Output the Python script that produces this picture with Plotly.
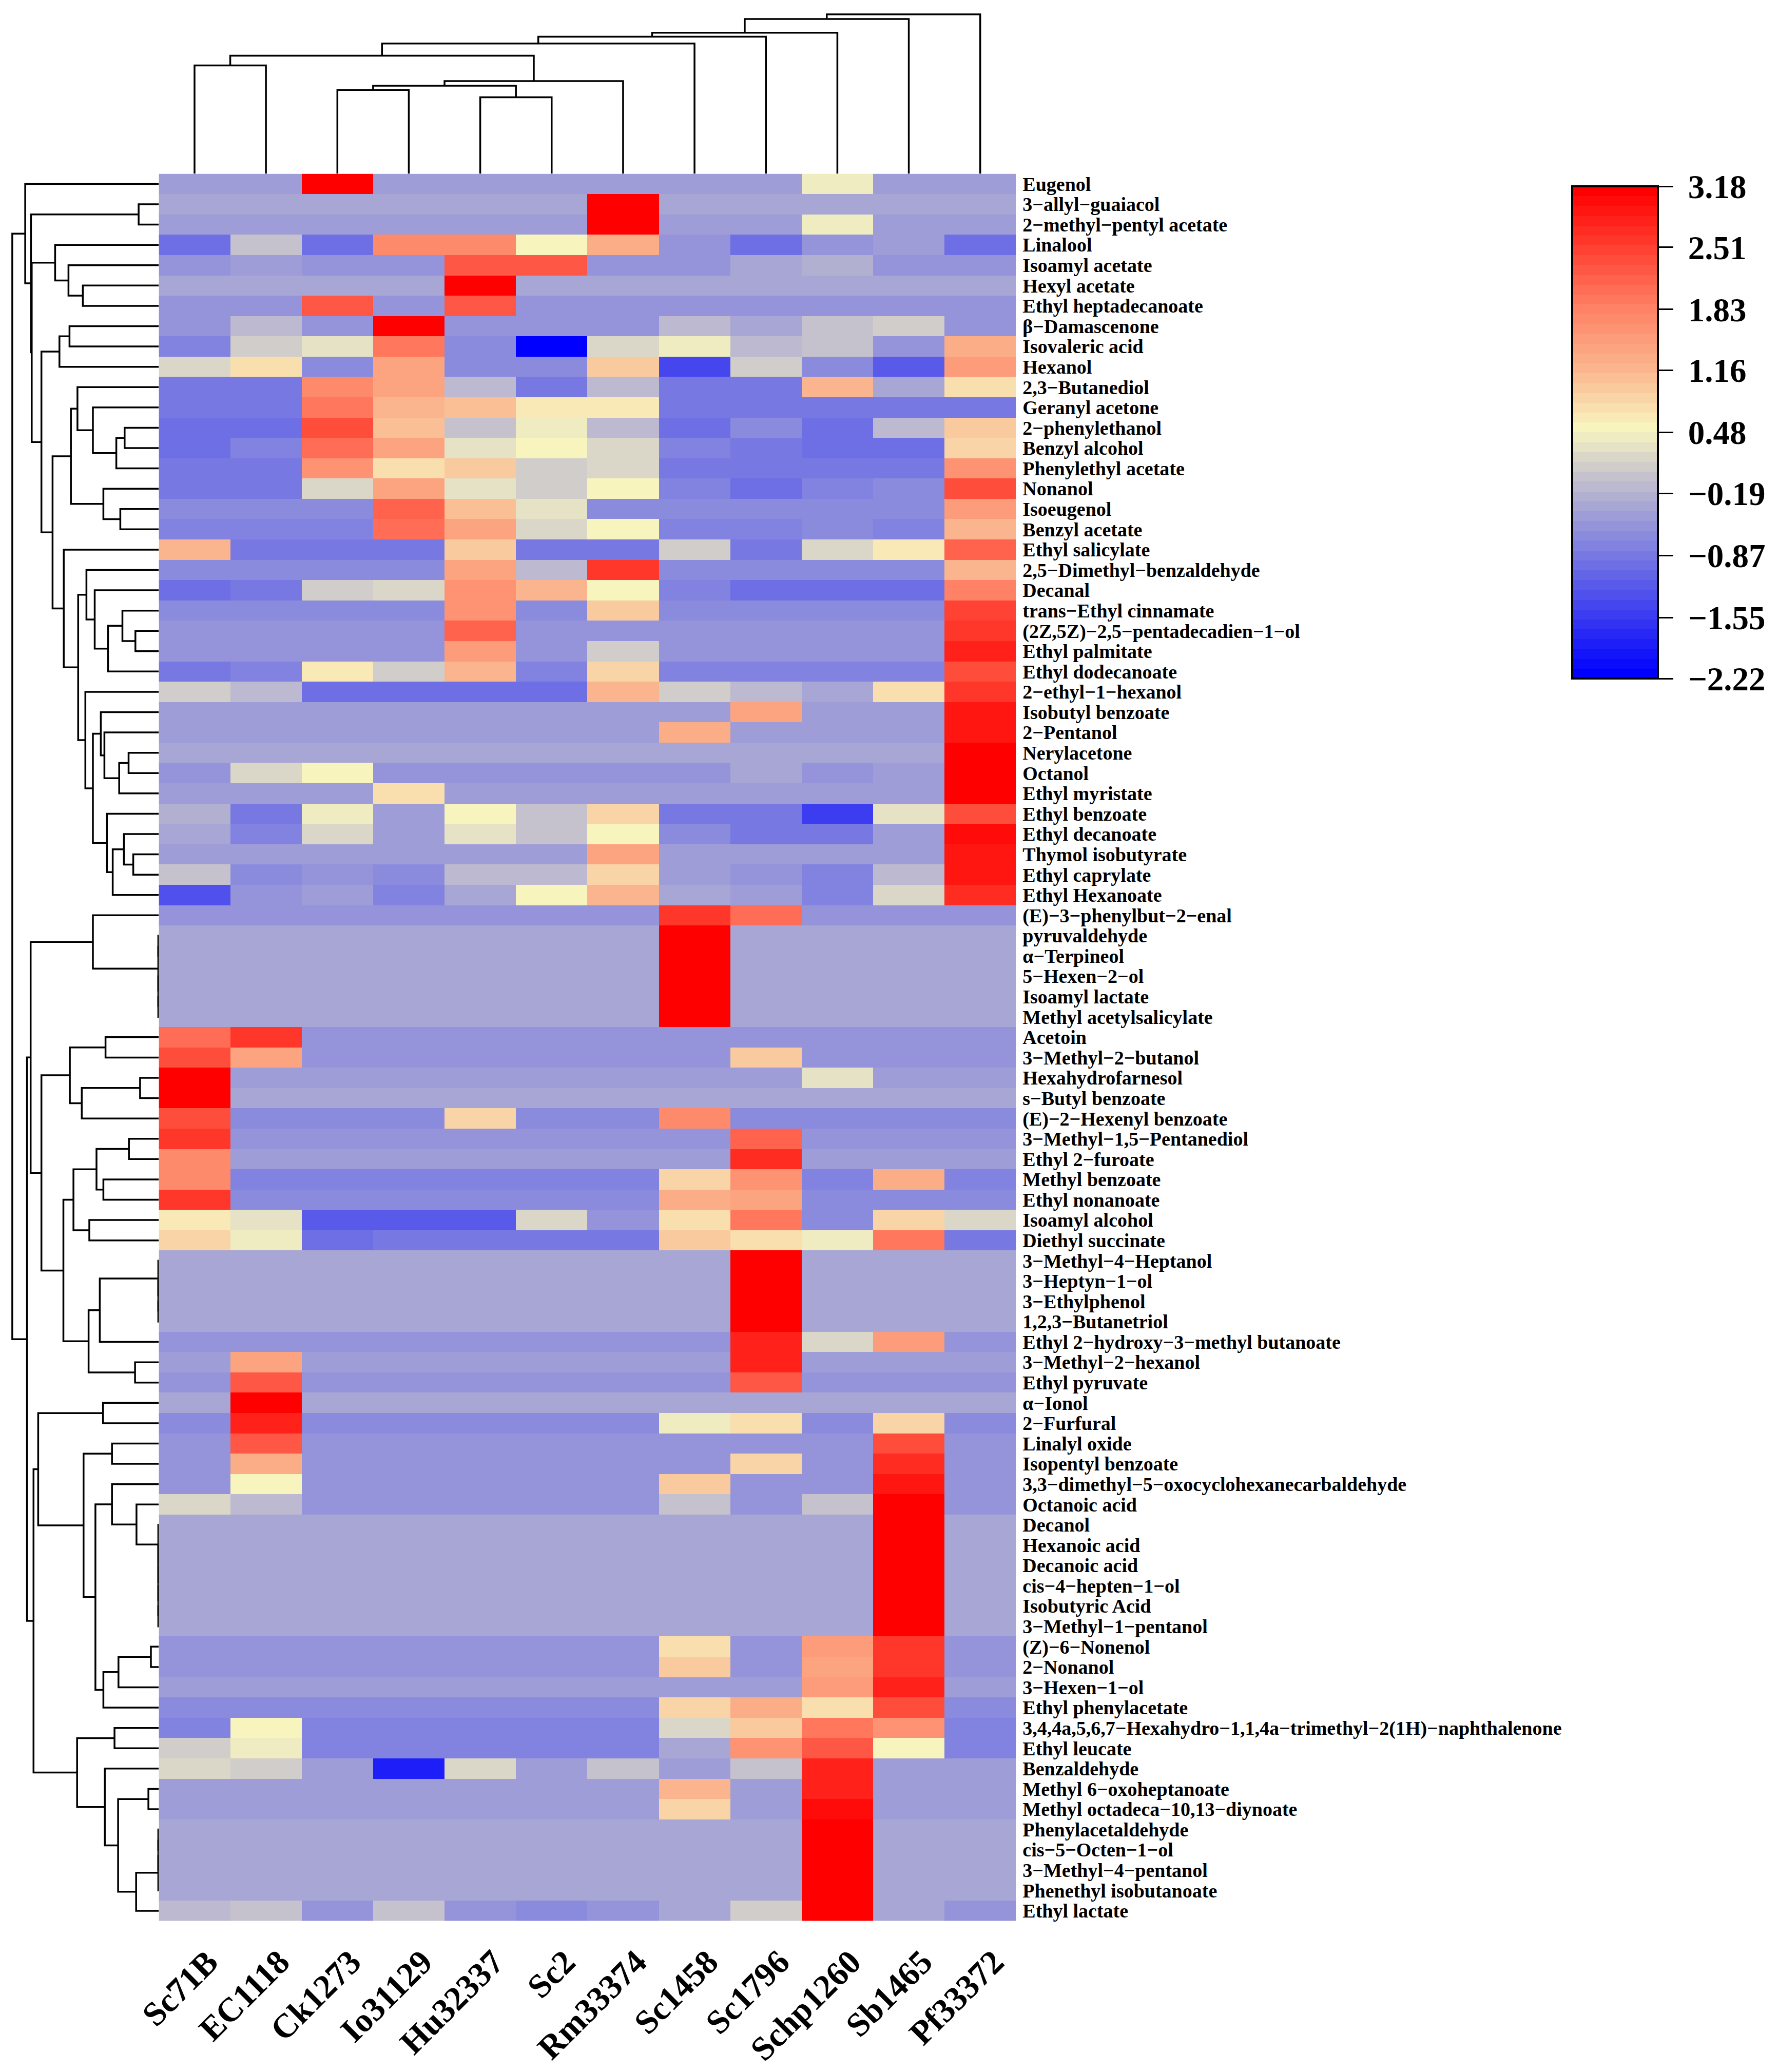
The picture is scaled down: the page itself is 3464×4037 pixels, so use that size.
import plotly.graph_objects as go

# ── Data ──────────────────────────────────────────────────────────────────────

samples = ['Sc71B', 'EC1118', 'Ck1273', 'Io31129', 'Hu32337', 'Sc2', 'Rm33374',
           'Sc1458', 'Sc1796', 'Schp1260', 'Sb1465', 'Pf33372']

compounds = [
    'Eugenol', '3−allyl−guaiacol', '2−methyl−pentyl acetate', 'Linalool', 'Isoamyl acetate',
    'Hexyl acetate', 'Ethyl heptadecanoate', 'β−Damascenone', 'Isovaleric acid', 'Hexanol',
    '2,3−Butanediol', 'Geranyl acetone', '2−phenylethanol', 'Benzyl alcohol', 'Phenylethyl acetate',
    'Nonanol', 'Isoeugenol', 'Benzyl acetate', 'Ethyl salicylate', '2,5−Dimethyl−benzaldehyde',
    'Decanal', 'trans−Ethyl cinnamate', '(2Z,5Z)−2,5−pentadecadien−1−ol', 'Ethyl palmitate',
    'Ethyl dodecanoate', '2−ethyl−1−hexanol', 'Isobutyl benzoate', '2−Pentanol', 'Nerylacetone',
    'Octanol', 'Ethyl myristate', 'Ethyl benzoate', 'Ethyl decanoate', 'Thymol isobutyrate',
    'Ethyl caprylate', 'Ethyl Hexanoate', '(E)−3−phenylbut−2−enal', 'pyruvaldehyde', 'α−Terpineol',
    '5−Hexen−2−ol', 'Isoamyl lactate', 'Methyl acetylsalicylate', 'Acetoin', '3−Methyl−2−butanol',
    'Hexahydrofarnesol', 's−Butyl benzoate', '(E)−2−Hexenyl benzoate', '3−Methyl−1,5−Pentanediol',
    'Ethyl 2−furoate', 'Methyl benzoate', 'Ethyl nonanoate', 'Isoamyl alcohol', 'Diethyl succinate',
    '3−Methyl−4−Heptanol', '3−Heptyn−1−ol', '3−Ethylphenol', '1,2,3−Butanetriol',
    'Ethyl 2−hydroxy−3−methyl butanoate', '3−Methyl−2−hexanol', 'Ethyl pyruvate', 'α−Ionol',
    '2−Furfural', 'Linalyl oxide', 'Isopentyl benzoate', '3,3−dimethyl−5−oxocyclohexanecarbaldehyde',
    'Octanoic acid', 'Decanol', 'Hexanoic acid', 'Decanoic acid', 'cis−4−hepten−1−ol',
    'Isobutyric Acid', '3−Methyl−1−pentanol', '(Z)−6−Nonenol', '2−Nonanol', '3−Hexen−1−ol',
    'Ethyl phenylacetate', '3,4,4a,5,6,7−Hexahydro−1,1,4a−trimethyl−2(1H)−naphthalenone',
    'Ethyl leucate', 'Benzaldehyde', 'Methyl 6−oxoheptanoate', 'Methyl octadeca−10,13−diynoate',
    'Phenylacetaldehyde', 'cis−5−Octen−1−ol', '3−Methyl−4−pentanol', 'Phenethyl isobutanoate',
    'Ethyl lactate',
]

values = [
    [-.40, -.40, 3.18, -.40, -.40, -.40, -.40, -.40, -.40, .38, -.40, -.40],
    [-.28, -.28, -.28, -.28, -.28, -.28, 3.18, -.28, -.28, -.28, -.28, -.28],
    [-.42, -.42, -.42, -.42, -.42, -.42, 3.18, -.42, -.42, .42, -.42, -.42],
    [-.95, -.03, -.95, 1.72, 1.72, .52, 1.25, -.55, -.95, -.55, -.42, -.95],
    [-.52, -.42, -.52, -.52, 2.25, 2.25, -.52, -.52, -.30, -.17, -.52, -.52],
    [-.28, -.28, -.28, -.28, 3.18, -.28, -.28, -.28, -.28, -.28, -.28, -.28],
    [-.52, -.52, 2.25, -.52, 2.25, -.52, -.52, -.52, -.52, -.52, -.52, -.52],
    [-.52, -.15, -.52, 3.18, -.52, -.52, -.52, -.15, -.28, -.03, .07, -.52],
    [-.73, .07, .28, 1.95, -.68, -2.22, .18, .45, -.15, -.03, -.60, 1.25],
    [.18, .72, -.68, 1.40, -.68, -.63, .95, -1.38, .07, -.68, -1.20, 1.55],
    [-.92, -.92, 1.72, 1.40, -.15, -.92, -.10, -.92, -.92, 1.15, -.28, .72],
    [-.87, -.87, 1.92, 1.20, 1.10, .62, .62, -.87, -.87, -.87, -.87, -.87],
    [-.95, -.95, 2.42, 1.10, -.03, .38, -.15, -.95, -.65, -1.02, -.15, .92],
    [-.95, -.73, 2.00, 1.35, .28, .50, .18, -.75, -.87, -1.02, -1.02, .85],
    [-.87, -.87, 1.60, .72, .95, .05, .18, -.87, -.87, -.87, -.87, 1.60],
    [-.87, -.87, .18, 1.35, .28, .05, .50, -.75, -1.02, -.75, -.65, 2.40],
    [-.65, -.65, -.65, 2.20, 1.05, .35, -.65, -.65, -.65, -.65, -.65, 1.55],
    [-.73, -.73, -.73, 2.05, 1.35, .18, .50, -.73, -.73, -.63, -.73, 1.20],
    [1.20, -.82, -.82, -.82, .95, -.85, -.85, .05, -.82, .18, .60, 2.10],
    [-.63, -.63, -.63, -.63, 1.35, -.15, 2.60, -.63, -.63, -.63, -.63, 1.15],
    [-.95, -.85, .05, .18, 1.60, 1.15, .52, -.80, -.95, -.95, -.95, 1.80],
    [-.63, -.63, -.63, -.63, 1.60, -.70, .95, -.63, -.63, -.63, -.63, 2.45],
    [-.52, -.52, -.52, -.52, 2.10, -.52, -.52, -.52, -.52, -.52, -.52, 2.55],
    [-.52, -.52, -.52, -.52, 1.55, -.52, .05, -.52, -.52, -.52, -.52, 2.75],
    [-.82, -.73, .66, .05, 1.20, -.80, .85, -.75, -.75, -.75, -.75, 2.42],
    [.05, -.15, -.95, -.95, -.95, -.95, 1.20, .05, -.15, -.30, .75, 2.55],
    [-.40, -.40, -.40, -.40, -.40, -.40, -.40, -.40, 1.35, -.40, -.40, 2.90],
    [-.40, -.40, -.40, -.40, -.40, -.40, -.40, 1.25, -.40, -.40, -.40, 2.90],
    [-.28, -.28, -.28, -.28, -.28, -.28, -.28, -.28, -.28, -.28, -.28, 3.18],
    [-.52, .18, .52, -.52, -.52, -.52, -.52, -.52, -.30, -.52, -.42, 3.18],
    [-.42, -.42, -.42, .78, -.42, -.42, -.42, -.42, -.42, -.42, -.42, 3.18],
    [-.17, -.82, .38, -.42, .52, -.05, .85, -.92, -.82, -1.55, .28, 2.42],
    [-.28, -.80, .18, -.42, .28, -.05, .52, -.68, -.82, -.82, -.42, 3.00],
    [-.42, -.42, -.42, -.42, -.42, -.42, 1.35, -.42, -.42, -.42, -.42, 2.95],
    [-.03, -.63, -.52, -.63, -.15, -.15, .85, -.40, -.60, -.73, -.15, 2.90],
    [-1.25, -.58, -.42, -.73, -.28, .52, 1.20, -.28, -.42, -.73, .18, 2.65],
    [-.52, -.52, -.52, -.52, -.52, -.52, -.52, 2.60, 2.00, -.52, -.52, -.52],
    [-.28, -.28, -.28, -.28, -.28, -.28, -.28, 3.18, -.28, -.28, -.28, -.28],
    [-.28, -.28, -.28, -.28, -.28, -.28, -.28, 3.18, -.28, -.28, -.28, -.28],
    [-.28, -.28, -.28, -.28, -.28, -.28, -.28, 3.18, -.28, -.28, -.28, -.28],
    [-.28, -.28, -.28, -.28, -.28, -.28, -.28, 3.18, -.28, -.28, -.28, -.28],
    [-.28, -.28, -.28, -.28, -.28, -.28, -.28, 3.18, -.28, -.28, -.28, -.28],
    [2.00, 2.60, -.52, -.52, -.52, -.52, -.52, -.52, -.52, -.52, -.52, -.52],
    [2.42, 1.40, -.52, -.52, -.52, -.52, -.52, -.52, .95, -.52, -.52, -.52],
    [3.18, -.42, -.42, -.42, -.42, -.42, -.42, -.42, -.42, .28, -.42, -.42],
    [3.18, -.28, -.28, -.28, -.28, -.28, -.28, -.28, -.28, -.28, -.28, -.28],
    [2.35, -.63, -.63, -.63, .90, -.63, -.63, 1.72, -.63, -.63, -.63, -.63],
    [2.55, -.52, -.52, -.52, -.52, -.52, -.52, -.52, 2.10, -.52, -.52, -.52],
    [1.72, -.42, -.42, -.42, -.42, -.42, -.42, -.42, 2.72, -.42, -.42, -.42],
    [1.72, -.73, -.73, -.73, -.73, -.73, -.73, .82, 1.60, -.73, 1.25, -.73],
    [2.55, -.68, -.68, -.68, -.68, -.68, -.68, 1.25, 1.35, -.68, -.68, -.68],
    [.66, .28, -1.20, -1.20, -1.20, .18, -.52, .72, 1.90, -.63, .88, .25],
    [.85, .38, -1.02, -.92, -.92, -.92, -.82, .95, .80, .40, 1.90, -.85],
    [-.28, -.28, -.28, -.28, -.28, -.28, -.28, -.28, 3.18, -.28, -.28, -.28],
    [-.28, -.28, -.28, -.28, -.28, -.28, -.28, -.28, 3.18, -.28, -.28, -.28],
    [-.28, -.28, -.28, -.28, -.28, -.28, -.28, -.28, 3.18, -.28, -.28, -.28],
    [-.28, -.28, -.28, -.28, -.28, -.28, -.28, -.28, 3.18, -.28, -.28, -.28],
    [-.52, -.52, -.52, -.52, -.52, -.52, -.52, -.52, 2.75, .18, 1.55, -.52],
    [-.42, 1.45, -.42, -.42, -.42, -.42, -.42, -.42, 2.85, -.42, -.42, -.42],
    [-.52, 2.25, -.52, -.52, -.52, -.52, -.52, -.52, 2.25, -.52, -.52, -.52],
    [-.28, 3.18, -.28, -.28, -.28, -.28, -.28, -.28, -.28, -.28, -.28, -.28],
    [-.63, 2.85, -.63, -.63, -.63, -.63, -.63, .38, .72, -.63, .85, -.63],
    [-.52, 2.25, -.52, -.52, -.52, -.52, -.52, -.52, -.52, -.52, 2.40, -.52],
    [-.52, 1.25, -.52, -.52, -.52, -.52, -.52, -.52, .85, -.52, 2.70, -.52],
    [-.52, .52, -.52, -.52, -.52, -.52, -.52, .95, -.52, -.52, 2.90, -.52],
    [.18, -.15, -.52, -.52, -.52, -.52, -.52, -.03, -.52, .00, 3.18, -.52],
    [-.28, -.28, -.28, -.28, -.28, -.28, -.28, -.28, -.28, -.28, 3.18, -.28],
    [-.28, -.28, -.28, -.28, -.28, -.28, -.28, -.28, -.28, -.28, 3.18, -.28],
    [-.28, -.28, -.28, -.28, -.28, -.28, -.28, -.28, -.28, -.28, 3.18, -.28],
    [-.28, -.28, -.28, -.28, -.28, -.28, -.28, -.28, -.28, -.28, 3.18, -.28],
    [-.28, -.28, -.28, -.28, -.28, -.28, -.28, -.28, -.28, -.28, 3.18, -.28],
    [-.28, -.28, -.28, -.28, -.28, -.28, -.28, -.28, -.28, -.28, 3.18, -.28],
    [-.52, -.52, -.52, -.52, -.52, -.52, -.52, .72, -.52, 1.50, 2.60, -.52],
    [-.52, -.52, -.52, -.52, -.52, -.52, -.52, .92, -.52, 1.38, 2.60, -.52],
    [-.45, -.45, -.45, -.45, -.45, -.45, -.45, -.45, -.45, 1.50, 2.80, -.45],
    [-.63, -.63, -.63, -.63, -.63, -.63, -.63, .82, 1.25, .80, 2.35, -.63],
    [-.73, .52, -.73, -.73, -.73, -.73, -.73, .18, .95, 1.90, 1.60, -.73],
    [.07, .38, -.73, -.73, -.73, -.73, -.73, -.28, 1.65, 2.25, .52, -.73],
    [.18, .07, -.42, -1.80, .18, -.42, -.05, -.45, -.05, 2.85, -.42, -.42],
    [-.42, -.42, -.42, -.42, -.42, -.42, -.42, 1.20, -.42, 2.85, -.42, -.42],
    [-.42, -.42, -.42, -.42, -.42, -.42, -.42, .88, -.42, 3.05, -.42, -.42],
    [-.28, -.28, -.28, -.28, -.28, -.28, -.28, -.28, -.28, 3.18, -.28, -.28],
    [-.28, -.28, -.28, -.28, -.28, -.28, -.28, -.28, -.28, 3.18, -.28, -.28],
    [-.28, -.28, -.28, -.28, -.28, -.28, -.28, -.28, -.28, 3.18, -.28, -.28],
    [-.28, -.28, -.28, -.28, -.28, -.28, -.28, -.28, -.28, 3.18, -.28, -.28],
    [-.15, -.03, -.55, -.03, -.55, -.62, -.52, -.28, .07, 3.18, -.28, -.60],
]

cbar_ticks = [3.18, 2.51, 1.83, 1.16, 0.48, -0.19, -0.87, -1.55, -2.22]
cbar_text = ['3.18', '2.51', '1.83', '1.16', '0.48', '−0.19', '−0.87', '−1.55', '−2.22']

# dendrogram merges: (name, child, child, height). ints are 1-based leaves
row_links = [
    ('n23', 2, 3, 39.3), ('E', 6, 7, 148), ('D', 5, 'E', 176), ('C', 4, 'D', 202),
    ('H', 8, 9, 174), ('G', 'H', 10, 193.6), ('N', 13, 14, 66.6), ('M', 'N', 15, 82.8),
    ('L', 12, 'M', 128.4), ('K', 11, 'L', 158.5), ('P', 17, 18, 75), ('O', 16, 'P', 108),
    ('J', 'K', 'O', 171.2), ('W', 23, 24, 45.6), ('V', 22, 'W', 70.9), ('U', 'V', 25, 98.9),
    ('T', 21, 'U', 124.9), ('S', 20, 'T', 141), ('AC', 29, 30, 58.9), ('AB', 'AC', 31, 77.2),
    ('AA', 28, 'AB', 106), ('Z', 27, 'AA', 113), ('AG', 34, 35, 49.8), ('AF', 33, 'AG', 68),
    ('AE', 'AF', 36, 89.8), ('AD', 32, 'AE', 101), ('Y', 'Z', 'AD', 128.4), ('X', 26, 'Y', 143.1),
    ('R', 'S', 'X', 157.1), ('Q', 19, 'R', 185.2), ('I', 'J', 'Q', 207), ('F', 'G', 'I', 228.7),
    ('B', 'C', 'F', 247.6), ('A', 'n23', 'B', 249), ('top', 1, 'A', 260.3),
    ('d1', 38, 39, 1), ('d2', 41, 42, 1), ('d3', 40, 'd2', 1), ('BD', 'd1', 'd3', 1),
    ('BC', 37, 'BD', 128.4), ('BG', 43, 44, 103.8), ('BI', 45, 46, 36.5), ('BH', 'BI', 47, 150.1),
    ('BF', 'BG', 'BH', 173.3), ('BM', 48, 49, 58.2), ('BN', 50, 51, 108), ('BL', 'BM', 'BN', 121.4),
    ('BO', 52, 53, 135.4), ('BK', 'BL', 'BO', 166.3), ('r1', 56, 57, 1), ('r2', 55, 'r1', 1),
    ('BR', 54, 'r2', 1), ('BQ', 'BR', 58, 115), ('BS', 59, 60, 46.3), ('BP', 'BQ', 'BS', 136.8),
    ('BJ', 'BK', 'BP', 185.9), ('BE', 'BF', 'BJ', 228.7), ('BB', 'BC', 'BE', 249.7),
    ('BV', 61, 62, 108.7), ('BX', 63, 64, 91.2), ('c1', 71, 72, 1), ('c2', 70, 'c1', 1),
    ('c3', 69, 'c2', 1), ('c4', 68, 'c3', 1), ('CB', 67, 'c4', 1), ('CA', 66, 'CB', 43.5),
    ('BZ', 65, 'CA', 91.2), ('CE', 73, 74, 15.4), ('CD', 'CE', 75, 78.6), ('CC', 'CD', 76, 108),
    ('BY', 'BZ', 'CC', 123.5), ('BW', 'BX', 'BY', 146.6), ('BU', 'BV', 'BW', 235),
    ('CG', 77, 78, 86.3), ('CJ', 80, 81, 20.3), ('l1', 82, 83, 1), ('l2', 84, 'l1', 1),
    ('CL', 85, 'l2', 1), ('CK', 'CL', 86, 44.2), ('CI', 'CJ', 'CK', 79.3), ('CH', 79, 'CI', 105.2),
    ('CF', 'CG', 'CH', 159.2), ('BT', 'BU', 'CF', 244.1), ('BA', 'BB', 'BT', 256.8),
    ('root', 'top', 'BA', 285.5),
]

col_links = [
    ('a', 1, 2, 211.1), ('b', 3, 4, 163.3), ('c', 5, 6, 149.2), ('d', 'b', 'c', 171.6),
    ('e', 'd', 7, 180.5), ('f', 'a', 'e', 230.2), ('g', 'f', 8, 253.8), ('h', 'g', 9, 267.2),
    ('i', 'h', 10, 274.9), ('j', 'i', 11, 301.7), ('k', 'j', 12, 310.6),
]

# ── Style ─────────────────────────────────────────────────────────────────────

W, H = 3464, 4037
LEFT, RIGHT, TOP, BOTTOM = 309.4, 1979.3, 338.6, 3742.7
FONT = 'Liberation Serif'
N_BANDS = 50

ANCHORS = [
    (-2.22, (0, 0, 255)), (-0.82, (127, 127, 225)), (-0.28, (174, 172, 210)),
    (-0.03, (196, 193, 206)), (0.52, (248, 245, 191)), (1.16, (250, 184, 144)),
    (1.92, (255, 125, 98)), (3.18, (255, 0, 0)),
]


def band_color(v):
    for (v0, c0), (v1, c1) in zip(ANCHORS, ANCHORS[1:]):
        if v <= v1:
            t = (v - v0) / (v1 - v0)
            r, g, b = [round(a + (b - a) * t) for a, b in zip(c0, c1)]
            return f'rgb({r},{g},{b})'
    return 'rgb(255,0,0)'


def stepped_scale():
    lo, hi = ANCHORS[0][0], ANCHORS[-1][0]
    scale = []
    for k in range(N_BANDS):
        col = band_color(lo + (hi - lo) * k / (N_BANDS - 1))
        scale += [[k / N_BANDS, col], [(k + 1) / N_BANDS, col]]
    return scale


def dendro_paths(links):
    """Walk the merges bottom-up, return leaf positions and heights with None breaks."""
    pos, height = {}, {}
    path_pos, path_h = [], []
    def get(node):
        if isinstance(node, int):
            return node - 1, 0
        return pos[node], height[node]
    for name, a, b, h in links:
        pa, ha = get(a)
        pb, hb = get(b)
        path_pos += [pa, pa, pb, pb, None]
        path_h += [ha, h, h, hb, None]
        pos[name], height[name] = (pa + pb) / 2, h
    return path_pos, path_h


fig = go.Figure()

fig.add_trace(go.Heatmap(
    z=values, x=list(range(len(samples))), y=list(range(len(compounds))),
    zmin=-2.22, zmax=3.18,
    colorscale=stepped_scale(),
    hoverongaps=False,
    colorbar=dict(
        x=3063 / W, xanchor='left', y=1 - 363 / H, yanchor='top',
        len=959, lenmode='pixels', thickness=167, thicknessmode='pixels',
        xpad=0, ypad=0,
        outlinecolor='black', outlinewidth=4,
        tickmode='array', tickvals=cbar_ticks,
        ticktext=['\u00a0' + t for t in cbar_text],
        ticks='outside', ticklen=28, tickwidth=3, tickcolor='black',
        tickfont=dict(family=FONT, size=65, color='black', weight=700),
    ),
))

row_pos, row_h = dendro_paths(row_links)
fig.add_trace(go.Scatter(
    x=row_h, y=row_pos, xaxis='x2', yaxis='y', mode='lines',
    line=dict(color='black', width=3.5), cliponaxis=False,
    hoverinfo='skip', showlegend=False,
))
col_pos, col_h = dendro_paths(col_links)
fig.add_trace(go.Scatter(
    x=col_pos, y=col_h, xaxis='x', yaxis='y3', mode='lines',
    line=dict(color='black', width=3.5), cliponaxis=False,
    hoverinfo='skip', showlegend=False,
))

fig.update_layout(
    width=W, height=H,
    margin=dict(l=0, r=0, t=0, b=0, autoexpand=False),
    paper_bgcolor='white', plot_bgcolor='white',
    showlegend=False,
    xaxis=dict(
        domain=[LEFT / W, RIGHT / W], range=[-0.5, 11.5],
        tickmode='array', tickvals=[i + 0.19 for i in range(len(samples))], ticktext=samples,
        tickangle=-45, ticks='', ticklabelstandoff=27,
        tickfont=dict(family=FONT, size=66, color='black', weight=700),
        showgrid=False, zeroline=False, showline=False, automargin=False,
    ),
    yaxis=dict(
        domain=[1 - BOTTOM / H, 1 - TOP / H], range=[85.5, -0.5], side='right',
        tickmode='array', tickvals=list(range(len(compounds))), ticktext=compounds,
        ticks='', ticklabelstandoff=12,
        tickfont=dict(family=FONT, size=38, color='black', weight=700),
        showgrid=False, zeroline=False, showline=False, automargin=False,
    ),
    xaxis2=dict(domain=[0, LEFT / W], range=[LEFT, 0], visible=False, anchor='y'),
    yaxis3=dict(domain=[1 - TOP / H, 1], range=[0, TOP], visible=False, anchor='x'),
)

fig.write_html('out.html', post_script="document.body.style.margin='0';",
               config=dict(displayModeBar=False))
